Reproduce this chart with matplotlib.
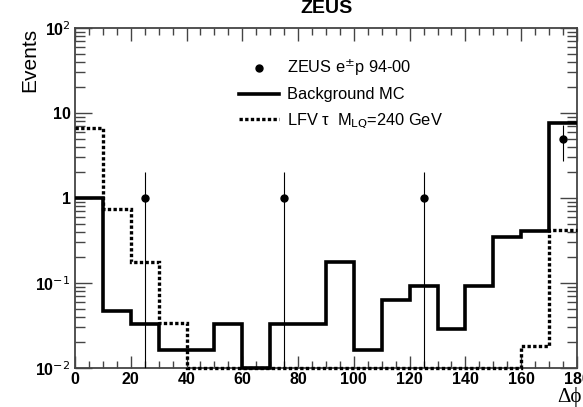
import matplotlib
matplotlib.use("Agg")
import matplotlib.pyplot as plt
from matplotlib.lines import Line2D
from matplotlib.ticker import FixedLocator, NullFormatter, MultipleLocator
import numpy as np

# Delta-phi bin edges (degrees)
bin_edges = np.arange(0, 190, 10)

# Background MC expectation per bin
background_mc = [1.0, 0.047, 0.033, 0.0165, 0.0165, 0.033, 0.01, 0.033, 0.033,
                 0.177, 0.0165, 0.063, 0.092, 0.029, 0.092, 0.35, 0.41, 7.6]

# LFV tau signal MC (M_LQ = 240 GeV)
lfv_signal = [6.6, 0.74, 0.177, 0.034, 0.01, 0.01, 0.01, 0.01, 0.01,
              0.01, 0.01, 0.01, 0.01, 0.01, 0.01, 0.01, 0.018, 0.42]

# ZEUS data points
data_x = [25, 75, 125, 175]
data_y = [1, 1, 1, 5]
data_err = [1.0, 1.0, 1.0, 2.24]

x_ticks = [0, 20, 40, 60, 80, 100, 120, 140, 160, 180]
y_ticks = [1e-2, 1e-1, 1, 10, 100]
y_tick_labels = ["10$^{-2}$", "10$^{-1}$", "1", "10", "10$^{2}$"]

plt.rcParams["font.family"] = ["Liberation Sans", "DejaVu Sans"]

fig = plt.figure(figsize=(5.83, 4.07), dpi=100)
ax = fig.add_axes([0.1286, 0.0958, 0.8611, 0.8354])

dash = (0, (1.0, 0.7))
ax.stairs(background_mc, bin_edges, baseline=None, color="black", lw=2.6,
          clip_on=False, zorder=3)
ax.stairs(lfv_signal, bin_edges, baseline=None, color="black", lw=2.4,
          linestyle=dash, clip_on=False, zorder=3)

lower = [min(e, y - 1e-4) for e, y in zip(data_err, data_y)]
ax.errorbar(data_x, data_y, yerr=[lower, data_err], fmt="o", color="black",
            ms=5, elinewidth=0.8, capsize=0, zorder=4)

ax.set_yscale("log")
ax.set_xlim(0, 180)
ax.set_ylim(1e-2, 1e2)

ax.xaxis.set_major_locator(FixedLocator(x_ticks))
ax.xaxis.set_minor_locator(MultipleLocator(5))
ax.set_xticklabels([str(t) for t in x_ticks], fontweight="bold", fontsize=11.5)
ax.yaxis.set_major_locator(FixedLocator(y_ticks))
ax.set_yticklabels(y_tick_labels, fontweight="bold", fontsize=11.5)
ax.yaxis.set_minor_formatter(NullFormatter())

ax.tick_params(which="both", direction="in", top=True, right=True,
               color="#444444")
ax.tick_params(which="major", length=12, width=1.0)
ax.tick_params(which="minor", length=7, width=1.0)
ax.tick_params(axis="x", which="major", length=9, pad=3)
ax.tick_params(axis="x", which="minor", length=5)
ax.tick_params(axis="y", pad=3)
for s in ax.spines.values():
    s.set_color("#444444")
    s.set_linewidth(1.3)

ax.set_ylabel("Events", fontsize=15, loc="top", labelpad=-3)
fig.text(0.997, 0.0, "\u0394\u03d5", ha="right", va="bottom", fontsize=15,
         family=["Liberation Serif", "DejaVu Serif"])

fig.text(0.56, 1.0, "ZEUS", ha="center", va="top", fontsize=14,
         fontweight="bold")

handles = [
    Line2D([], [], marker="o", color="black", ls="none", ms=5),
    Line2D([], [], color="black", lw=2.6),
    Line2D([], [], color="black", lw=2.4, linestyle=dash),
]
labels = ["ZEUS e$^{\\pm}$p 94-00", "Background MC",
          "LFV \u03c4  M$_{\\mathrm{LQ}}$=240 GeV"]
ax.legend(handles, labels, loc="upper left", bbox_to_anchor=(0.298, 0.955),
          frameon=False, fontsize=11.8, handlelength=2.4, handletextpad=0.5,
          labelspacing=0.55)

fig.savefig("out.png", dpi=100)
